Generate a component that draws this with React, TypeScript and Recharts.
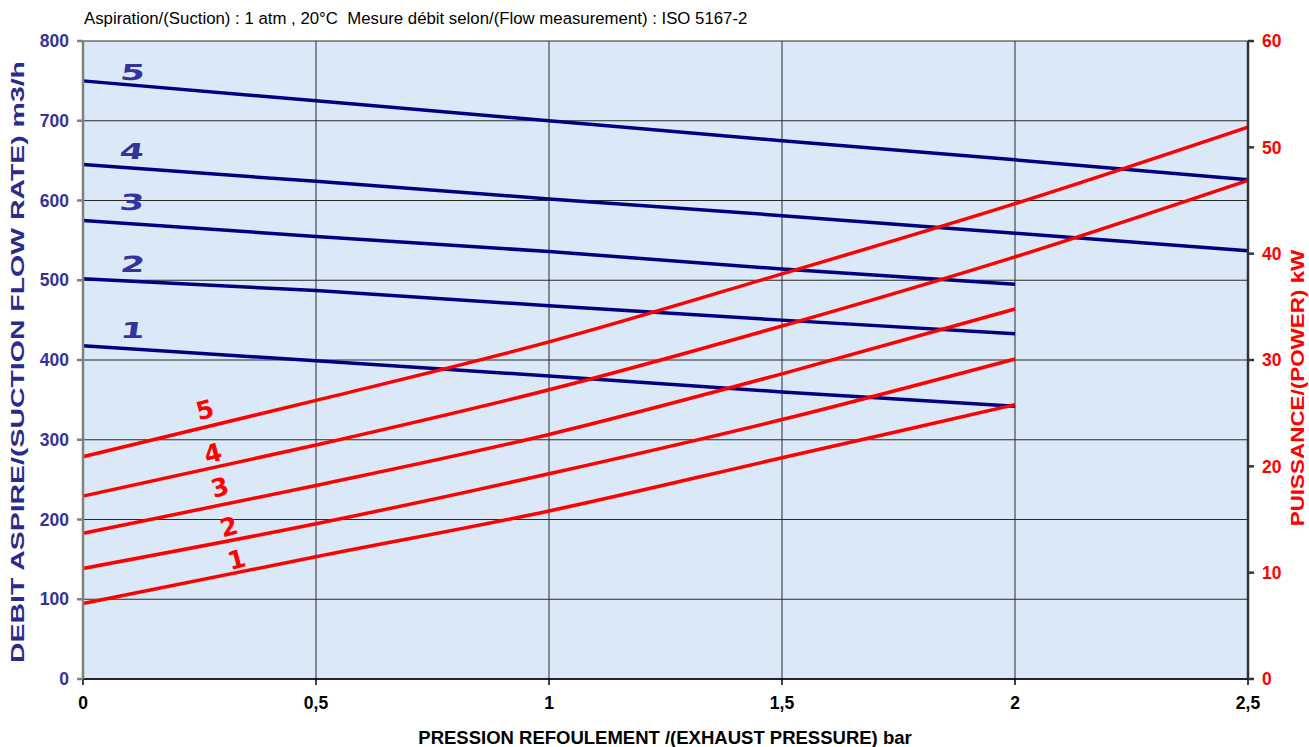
import React from "react";
import { LineChart, Line, XAxis, YAxis, CartesianGrid, ReferenceDot } from "recharts";

// pressure (bar) on the x axis
const pressure = [0, 0.5, 1, 1.5, 2, 2.5];

// suction flow rate, m3/h (left axis), curves 1..5
const flow1 = [418, 399, 380, 360, 342, null];
const flow2 = [502, 487, 468, 450, 433, null];
const flow3 = [575, 555, 536, 514, 495, null];
const flow4 = [645, 624, 602, 581, 559, 537];
const flow5 = [750, 725, 700, 675, 651, 626];

// power, kW (right axis), curves 1..5
const power1 = [7.1, 11.5, 15.8, 20.8, 25.8, null];
const power2 = [10.4, 14.6, 19.3, 24.4, 30.1, null];
const power3 = [13.7, 18.2, 23.0, 28.7, 34.8, null];
const power4 = [17.2, 22.0, 27.2, 33.2, 39.7, 46.9];
const power5 = [20.9, 26.2, 31.7, 38.1, 44.7, 51.9];

const xTicks = [0, 0.5, 1, 1.5, 2, 2.5];
const flowTicks = [0, 100, 200, 300, 400, 500, 600, 700, 800];
const powerTicks = [0, 10, 20, 30, 40, 50, 60];

// curve number labels, in data units
const flowLabels = [
  { x: 0.107, y: 761, text: "5" },
  { x: 0.105, y: 662, text: "4" },
  { x: 0.105, y: 597, text: "3" },
  { x: 0.107, y: 520, text: "2" },
  { x: 0.107, y: 437, text: "1" },
];
const powerLabels = [
  { x: 0.262, y: 25.3, text: "5" },
  { x: 0.279, y: 21.2, text: "4" },
  { x: 0.294, y: 18.0, text: "3" },
  { x: 0.313, y: 14.3, text: "2" },
  { x: 0.33, y: 11.2, text: "1" },
];

const data = pressure.map((p, i) => ({
  p,
  f1: flow1[i], f2: flow2[i], f3: flow3[i], f4: flow4[i], f5: flow5[i],
  w1: power1[i], w2: power2[i], w3: power3[i], w4: power4[i], w5: power5[i],
}));

const FONT = "'Liberation Sans', Arial, sans-serif";
const BLUE_TXT = "#333399";
const NAVY = "#000080";
const RED = "#ff0000";

const flowKeys = ["f1", "f2", "f3", "f4", "f5"];
const powerKeys = ["w1", "w2", "w3", "w4", "w5"];

export default function App() {
  return (
    <div style={{ position: "absolute", left: 0, top: 0, width: 1309, height: 747, background: "#fff", fontFamily: FONT }}>
      <div style={{ position: "absolute", left: 84, top: 9, fontSize: 16.8, color: "#000", whiteSpace: "pre", lineHeight: "20px" }}>
        {"Aspiration/(Suction) : 1 atm , 20°C  Mesure débit selon/(Flow measurement) : ISO 5167-2"}
      </div>
      <LineChart
        width={1309}
        height={747}
        data={data}
        margin={{ top: 41, right: 21, bottom: 28, left: 23 }}
      >
        <CartesianGrid
          yAxisId="left"
          stroke="#2a2a2a"
          strokeWidth={1}
          fill="#dae8f7"
          fillOpacity={1}
          horizontalValues={flowTicks}
          verticalValues={xTicks}
        />
        <XAxis
          dataKey="p"
          type="number"
          domain={[0, 2.5]}
          ticks={xTicks}
          tickFormatter={(v) => String(v).replace(".", ",")}
          height={40}
          tickSize={6}
          tickMargin={12}
          stroke="#000"
          strokeWidth={1.5}
          tick={{ fill: "#000", fontSize: 17.5, fontWeight: 700, fontFamily: FONT }}
        />
        <YAxis
          yAxisId="left"
          domain={[0, 800]}
          ticks={flowTicks}
          width={60}
          tickSize={6}
          tickMargin={8}
          stroke="#808080"
          strokeWidth={2.5}
          tick={{ fill: BLUE_TXT, fontSize: 17.5, fontWeight: 700, fontFamily: FONT }}
        />
        <YAxis
          yAxisId="right"
          orientation="right"
          domain={[0, 60]}
          ticks={powerTicks}
          width={40}
          tickSize={6}
          tickMargin={8}
          stroke="#333"
          strokeWidth={2.5}
          tick={{ fill: RED, fontSize: 17.5, fontWeight: 700, fontFamily: FONT, textAnchor: "start" }}
        />
        {flowKeys.map((k) => (
          <Line
            key={k}
            yAxisId="left"
            dataKey={k}
            type="linear"
            stroke={NAVY}
            strokeWidth={3.5}
            dot={false}
            activeDot={false}
            connectNulls={false}
            isAnimationActive={false}
          />
        ))}
        {powerKeys.map((k) => (
          <Line
            key={k}
            yAxisId="right"
            dataKey={k}
            type="monotone"
            stroke={RED}
            strokeWidth={3.5}
            dot={false}
            activeDot={false}
            connectNulls={false}
            isAnimationActive={false}
          />
        ))}
        {flowLabels.map((l) => (
          <ReferenceDot
            key={"fl" + l.text}
            yAxisId="left"
            x={l.x}
            y={l.y}
            r={0}
            shape={(p: any) => (
              <text
                x={p.cx}
                y={p.cy}
                textAnchor="middle"
                dominantBaseline="central"
                fill={BLUE_TXT}
                fontSize={26}
                fontWeight={700}
                fontFamily="'DejaVu Sans', sans-serif"
                transform={`translate(${p.cx} ${p.cy}) skewX(-8) scale(1.35 0.85) translate(${-p.cx} ${-p.cy})`}
              >
                {l.text}
              </text>
            )}
          />
        ))}
        {powerLabels.map((l) => (
          <ReferenceDot
            key={"pl" + l.text}
            yAxisId="right"
            x={l.x}
            y={l.y}
            r={0}
            shape={(p: any) => (
              <text
                x={p.cx}
                y={p.cy}
                textAnchor="middle"
                dominantBaseline="central"
                fill={RED}
                fontSize={25}
                fontWeight={700}
                fontFamily="'DejaVu Sans', sans-serif"
                transform={`rotate(-15 ${p.cx} ${p.cy})`}
              >
                {l.text}
              </text>
            )}
          />
        ))}
      </LineChart>
      <div style={{ position: "absolute", left: 665, top: 738, transform: "translate(-50%, -50%)", whiteSpace: "nowrap", fontSize: 18.5, fontWeight: 700, color: "#000" }}>
        PRESSION REFOULEMENT /(EXHAUST PRESSURE) bar
      </div>
      <div
        style={{
          position: "absolute", left: 18, top: 362, transform: "translate(-50%, -50%) rotate(-90deg) scaleX(1.58)",
          whiteSpace: "nowrap", fontSize: 18, fontWeight: 700, color: "#2b2b8c",
        }}
      >
        DEBIT ASPIRE/(SUCTION FLOW RATE) m3/h
      </div>
      <div
        style={{
          position: "absolute", left: 1298, top: 388, transform: "translate(-50%, -50%) rotate(-90deg) scaleX(1.18)",
          whiteSpace: "nowrap", fontSize: 19, fontWeight: 700, color: RED,
        }}
      >
        PUISSANCE/(POWER) kW
      </div>
    </div>
  );
}
